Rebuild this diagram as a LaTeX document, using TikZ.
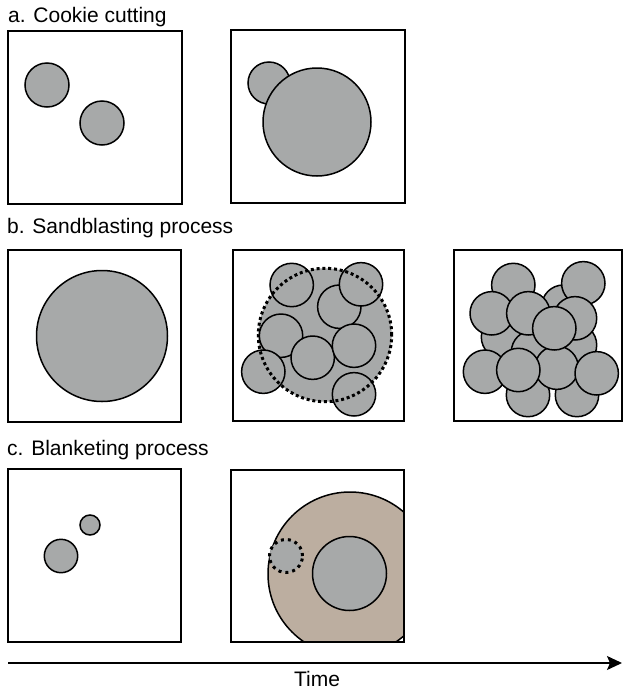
\documentclass[tikz,border=0pt]{standalone}
\usepackage{fontspec}
\setmainfont{Liberation Sans}
\usetikzlibrary{arrows.meta}
\definecolor{diskgray}{RGB}{167,169,169}
\definecolor{tan}{RGB}{188,174,160}
\tikzset{
  panel/.style={draw=black, line width=1.7pt},
  disk/.style={fill=diskgray, draw=black, line width=1.5pt},
  dotring/.style={draw=black, line width=3pt, dash pattern=on 3pt off 2.8pt},
  lbl/.style={anchor=base west, inner sep=0pt, font=\fontsize{21}{25}\selectfont},
}
\begin{document}
\begin{tikzpicture}[x=1pt,y=-1pt]
\useasboundingbox (0,0) rectangle (624,691);
% ---------- a. Cookie cutting ----------
\node[lbl] (la) at (8,22) {a. Cookie cutting};
\draw[panel] (8,31) rectangle (182,204);
\draw[disk] (47,85) circle[radius=22pt];
\draw[disk] (102,123) circle[radius=22pt];
\draw[panel] (231,30) rectangle (405,203);
\draw[disk] (269,83) circle[radius=21pt];
\draw[disk] (317,122) circle[radius=54pt];
% ---------- b. Sandblasting ----------
\node[lbl] (lb) at (7,233) {b. Sandblasting process};
\draw[panel] (8,250) rectangle (181,422);
\draw[disk] (102,336) circle[radius=65.5pt];
% b2
\draw[panel] (233,250) rectangle (404,421);
\fill[diskgray] (325,335) circle[radius=66.7pt];
\draw[disk] (291.7,285) circle[radius=21.7pt];
\draw[disk] (339.3,306.7) circle[radius=21.7pt];
\draw[disk] (361,284.3) circle[radius=21.7pt];
\draw[disk] (281,335.7) circle[radius=21.7pt];
\draw[disk] (312.7,357.7) circle[radius=21.7pt];
\draw[disk] (354,345.7) circle[radius=21.7pt];
\draw[disk] (263.3,371.7) circle[radius=21.7pt];
\draw[disk] (354,394.3) circle[radius=21.7pt];
\draw[dotring] (325,335) circle[radius=66.7pt];
% b3
\draw[panel] (454,250) rectangle (622,421);
\foreach \x/\y in {528/395, 577/395, 563.3/306.7, 503/337, 533/352, 575/345,
                   513.3/285, 583.3/283.3, 556.7/367.7,
                   491.7/313.3, 528.3/313.3, 575/318.3, 554.3/328.3,
                   485/371.7, 518.3/370, 596.7/373.3}
  \draw[disk] (\x,\y) circle[radius=21.7pt];
% ---------- c. Blanketing ----------
\node[lbl] (lc) at (7,455) {c. Blanketing process};
\draw[panel] (8,469) rectangle (181,642);
\draw[disk] (90,525) circle[radius=10pt];
\draw[disk] (61,556) circle[radius=16.7pt];
% c2
\begin{scope}
  \clip (231,470) rectangle (404,642);
  \draw[fill=tan, draw=black, line width=1.5pt] (350,574) circle[radius=82pt];
\end{scope}
\draw[disk] (349.5,573.5) circle[radius=37pt];
\fill[diskgray] (286,556) circle[radius=16.5pt];
\draw[draw=black, line width=3pt, dash pattern=on 3pt off 4pt] (286,556) circle[radius=16.5pt];
\draw[panel] (231,470) rectangle (404,642);
% ---------- Time arrow ----------
\coordinate (t0) at (8,663);
\coordinate (t1) at (622,663);
\draw[line width=1.5pt, -{Stealth[length=15pt,width=14pt,inset=3pt]}] (t0) -- (t1);
\node[font=\fontsize{21}{25}\selectfont, anchor=base, inner sep=0pt] (time) at (317,686) {Time};
\end{tikzpicture}
\end{document}
